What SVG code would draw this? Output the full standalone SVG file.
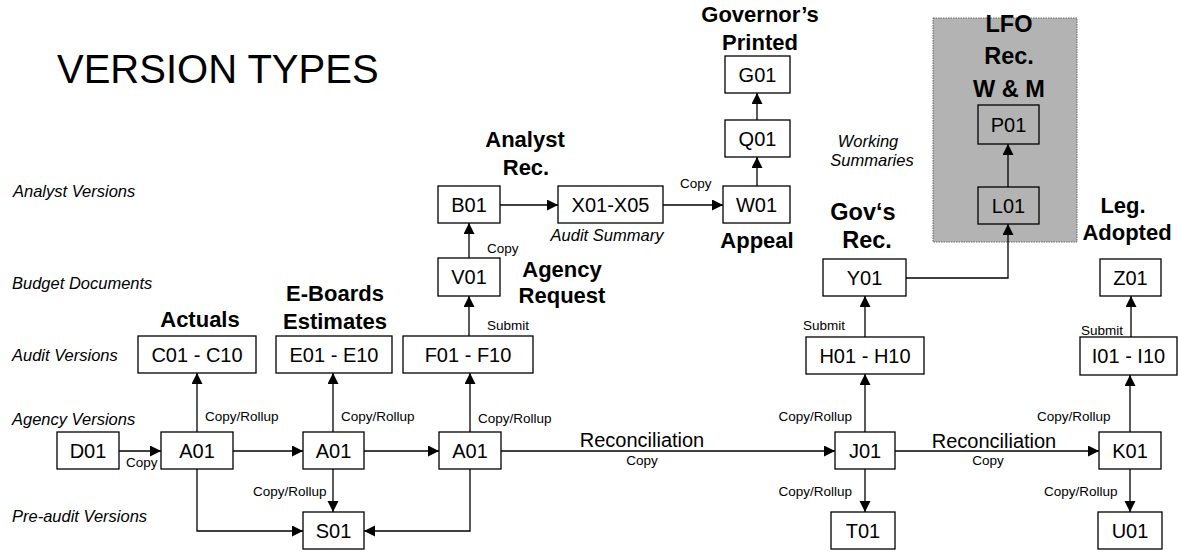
<svg xmlns="http://www.w3.org/2000/svg" width="1178" height="552" viewBox="0 0 1178 552">
<defs>
<marker id="arr" markerUnits="userSpaceOnUse" markerWidth="12" markerHeight="12" refX="11" refY="5.5" orient="auto">
<path d="M0,0 L11,5.5 L0,11 z" fill="#000"/>
</marker>
<style>
text{font-family:"Liberation Sans",Arial,sans-serif;fill:#000}
.box{fill:#fff;stroke:#000;stroke-width:1.3}
.gbox{fill:#b3b3b3;stroke:#000;stroke-width:1.3}
.nt{font-size:20px;text-anchor:middle}
.bl{font-size:22px;font-weight:bold;text-anchor:middle}
.bl2{font-size:23.5px;font-weight:bold;text-anchor:middle}
.it{font-size:16.5px;font-style:italic}
.sm{font-size:13.5px}
.rc{font-size:20px;text-anchor:middle}
.ln{fill:none;stroke:#000;stroke-width:1.3}
.a{marker-end:url(#arr)}
</style>
</defs>
<rect width="1178" height="552" fill="#fff"/>

<g id="lfo-area">
<rect x="933" y="18" width="144" height="224" fill="#b3b3b3" stroke="#666" stroke-width="1" stroke-dasharray="1.5,1"/>
</g>

<g id="titles">
<text x="57" y="83" style="font-size:40px">VERSION TYPES</text>
<text class="it" x="13" y="197">Analyst Versions</text>
<text class="it" x="12" y="289">Budget Documents</text>
<text class="it" x="12" y="361">Audit Versions</text>
<text class="it" x="12" y="425">Agency Versions</text>
<text class="it" x="12" y="522">Pre-audit Versions</text>
<text class="it" x="607" y="241" text-anchor="middle">Audit Summary</text>
<text class="it" x="868" y="147" text-anchor="middle">Working</text>
<text class="it" x="872" y="166" text-anchor="middle">Summaries</text>
<text class="bl" x="200" y="327">Actuals</text>
<text class="bl" x="335" y="301">E-Boards</text>
<text class="bl" x="335" y="329">Estimates</text>
<text class="bl" x="525" y="147">Analyst</text>
<text class="bl" x="526" y="175">Rec.</text>
<text class="bl" x="562" y="277">Agency</text>
<text class="bl" x="562" y="303">Request</text>
<text class="bl" x="757" y="248">Appeal</text>
<text class="bl" x="760" y="22">Governor’s</text>
<text class="bl" x="760" y="50">Printed</text>
<text class="bl2" x="1009" y="32">LFO</text>
<text class="bl2" x="1009" y="64">Rec.</text>
<text class="bl2" x="1009" y="97">W &amp; M</text>
<text class="bl2" x="863" y="220">Gov‘s</text>
<text class="bl2" x="867" y="248">Rec.</text>
<text class="bl" x="1123" y="213">Leg.</text>
<text class="bl" x="1127" y="240">Adopted</text>
</g>

<g id="connectors">
<path class="ln a" d="M119,451 H161"/>
<path class="ln a" d="M233,451 H303"/>
<path class="ln a" d="M364,451 H439"/>
<path class="ln a" d="M501,451 H835"/>
<path class="ln a" d="M895,451 H1099"/>
<path class="ln a" d="M197,432 V373"/>
<path class="ln a" d="M333,432 V373"/>
<path class="ln a" d="M470,432 V373"/>
<path class="ln a" d="M469,336 V296"/>
<path class="ln a" d="M469,258 V223"/>
<path class="ln a" d="M500,205 H558"/>
<path class="ln a" d="M663,205 H723"/>
<path class="ln a" d="M757,186 V157"/>
<path class="ln a" d="M757,120 V93"/>
<path class="ln a" d="M333,469 V512"/>
<path class="ln a" d="M197,469 V531 H303"/>
<path class="ln a" d="M470,469 V531 H364"/>
<path class="ln a" d="M865,432 V374"/>
<path class="ln a" d="M865,337 V296"/>
<path class="ln a" d="M906,278 H1008 V224"/>
<path class="ln a" d="M1008,187 V144"/>
<path class="ln a" d="M865,469 V512"/>
<path class="ln a" d="M1130,432 V375"/>
<path class="ln a" d="M1131,337 V296"/>
<path class="ln a" d="M1130,469 V512"/>
<text class="sm" x="126" y="467">Copy</text>
<text class="sm" x="205" y="421">Copy/Rollup</text>
<text class="sm" x="341" y="421">Copy/Rollup</text>
<text class="sm" x="253" y="496">Copy/Rollup</text>
<text class="sm" x="478" y="423">Copy/Rollup</text>
<text class="sm" x="487" y="330">Submit</text>
<text class="sm" x="487" y="253">Copy</text>
<text class="sm" x="680" y="188">Copy</text>
<text class="rc" x="642" y="447">Reconciliation</text>
<text class="sm" x="642" y="465" text-anchor="middle">Copy</text>
<text class="rc" x="994" y="448">Reconciliation</text>
<text class="sm" x="988" y="465" text-anchor="middle">Copy</text>
<text class="sm" x="803" y="330">Submit</text>
<text class="sm" x="852" y="421" text-anchor="end">Copy/Rollup</text>
<text class="sm" x="852" y="496" text-anchor="end">Copy/Rollup</text>
<text class="sm" x="1037" y="421">Copy/Rollup</text>
<text class="sm" x="1044" y="496">Copy/Rollup</text>
<text class="sm" x="1081" y="335">Submit</text>
</g>

<g id="D01"><rect class="box" x="57" y="432" width="62" height="37"/><text class="nt" x="88" y="458">D01</text></g>
<g id="A01a"><rect class="box" x="161" y="432" width="72" height="37"/><text class="nt" x="197" y="458">A01</text></g>
<g id="A01b"><rect class="box" x="303" y="432" width="61" height="37"/><text class="nt" x="333.5" y="458">A01</text></g>
<g id="A01c"><rect class="box" x="439" y="432" width="62" height="37"/><text class="nt" x="470" y="458">A01</text></g>
<g id="S01"><rect class="box" x="303" y="512" width="61" height="37"/><text class="nt" x="333.5" y="538">S01</text></g>
<g id="C01"><rect class="box" x="138" y="336" width="118" height="37"/><text class="nt" x="197" y="362">C01 - C10</text></g>
<g id="E01"><rect class="box" x="276" y="336" width="116" height="37"/><text class="nt" x="334" y="362">E01 - E10</text></g>
<g id="F01"><rect class="box" x="403" y="336" width="130" height="37"/><text class="nt" x="468" y="362">F01 - F10</text></g>
<g id="V01"><rect class="box" x="438" y="258" width="62" height="38"/><text class="nt" x="469" y="284">V01</text></g>
<g id="B01"><rect class="box" x="438" y="186" width="62" height="37"/><text class="nt" x="469" y="212">B01</text></g>
<g id="X01"><rect class="box" x="558" y="186" width="105" height="37"/><text class="nt" x="610.5" y="212">X01-X05</text></g>
<g id="W01"><rect class="box" x="723" y="186" width="67" height="37"/><text class="nt" x="756.5" y="212">W01</text></g>
<g id="Q01"><rect class="box" x="725" y="120" width="65" height="37"/><text class="nt" x="757.5" y="146">Q01</text></g>
<g id="G01"><rect class="box" x="725" y="56" width="65" height="37"/><text class="nt" x="757.5" y="82">G01</text></g>
<g id="Y01"><rect class="box" x="823" y="259" width="83" height="37"/><text class="nt" x="864.5" y="285">Y01</text></g>
<g id="H01"><rect class="box" x="806" y="337" width="118" height="37"/><text class="nt" x="865" y="363">H01 - H10</text></g>
<g id="J01"><rect class="box" x="835" y="432" width="60" height="37"/><text class="nt" x="865" y="458">J01</text></g>
<g id="T01"><rect class="box" x="831" y="512" width="64" height="37"/><text class="nt" x="863" y="538">T01</text></g>
<g id="K01"><rect class="box" x="1099" y="432" width="62" height="37"/><text class="nt" x="1130" y="458">K01</text></g>
<g id="U01"><rect class="box" x="1098" y="512" width="64" height="37"/><text class="nt" x="1130" y="538">U01</text></g>
<g id="I01"><rect class="box" x="1080" y="337" width="97" height="38"/><text class="nt" x="1128.5" y="363">I01 - I10</text></g>
<g id="Z01"><rect class="box" x="1100" y="259" width="61" height="37"/><text class="nt" x="1130.5" y="285">Z01</text></g>
<g id="L01"><rect class="gbox" x="978" y="187" width="61" height="37"/><text class="nt" x="1008.5" y="213">L01</text></g>
<g id="P01"><rect class="gbox" x="978" y="105" width="61" height="39"/><text class="nt" x="1008.5" y="132">P01</text></g>
</svg>
